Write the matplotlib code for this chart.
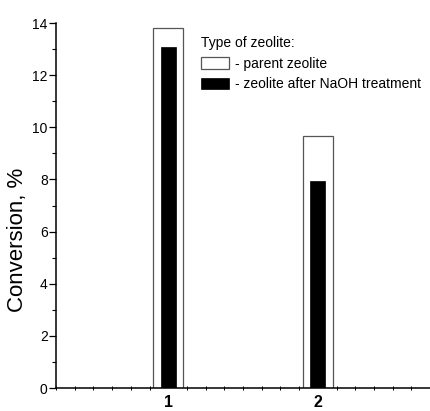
import matplotlib.pyplot as plt
from matplotlib.ticker import MultipleLocator

# data
samples = [1, 2]
sample_labels = ['1', '2']
parent = [13.8, 9.65]
treated = [13.07, 7.95]

plt.rcParams['font.family'] = ['Liberation Sans', 'DejaVu Sans']

fig = plt.figure(figsize=(4.3, 4.11), dpi=100)
ax = fig.add_axes([56 / 430, 23 / 411, 374 / 430, 365 / 411])

ax.bar(samples, parent, width=0.2, color='white', edgecolor='#555555',
       linewidth=0.9, label='- parent zeolite', zorder=2)
ax.bar(samples, treated, width=0.1, color='black', edgecolor='black',
       linewidth=0.5, label='- zeolite after NaOH treatment', zorder=3)

ax.set_xlim(0.25, 2.75)
ax.set_ylim(0, 14)
ax.spines['top'].set_visible(False)
ax.spines['right'].set_visible(False)
ax.spines['left'].set_linewidth(1.1)
ax.spines['bottom'].set_linewidth(1.1)

ax.set_xticks(samples)
ax.set_xticklabels(sample_labels, fontsize=11.5, fontweight='bold')
ax.xaxis.set_minor_locator(MultipleLocator(0.125))
ax.tick_params(axis='x', which='major', length=0, pad=5)
ax.tick_params(axis='x', which='minor', direction='inout', length=3, width=0.7)

ax.yaxis.set_major_locator(MultipleLocator(2))
ax.yaxis.set_minor_locator(MultipleLocator(1))
ax.tick_params(axis='y', which='major', length=5, width=0.9, labelsize=10, pad=1)
ax.tick_params(axis='y', which='minor', length=3, width=0.8)

ax.set_ylabel('Conversion, %', fontsize=16)
ax.yaxis.set_label_coords(-0.075, 0.405)

leg = ax.legend(title='Type of zeolite:', loc='upper left',
                bbox_to_anchor=(201 / 430, 1 - 36 / 411),
                bbox_transform=fig.transFigure, frameon=False,
                fontsize=10, title_fontsize=10, borderpad=0,
                handlelength=2.0, handleheight=0.9, handletextpad=0.46,
                labelspacing=0.48, borderaxespad=0)
leg._legend_box.align = 'left'

plt.savefig('out.png', dpi=100)
